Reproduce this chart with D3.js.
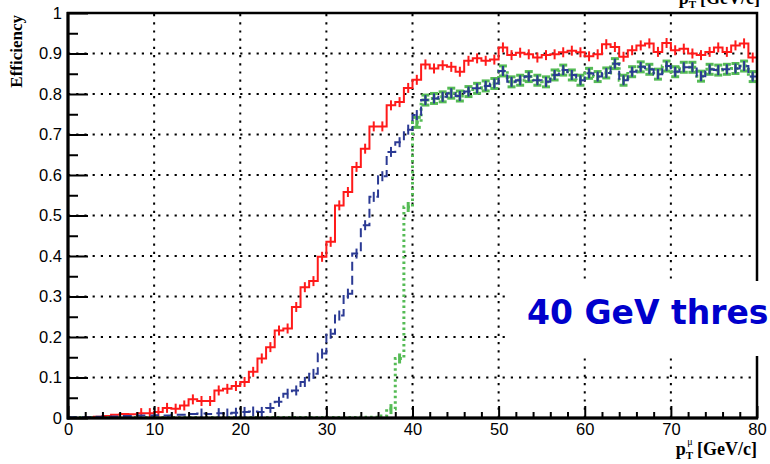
<!DOCTYPE html>
<html>
<head>
<meta charset="utf-8">
<script src="https://cdn.jsdelivr.net/npm/d3@7"></script>
<style>
  html, body { margin: 0; padding: 0; background: #fff; overflow: hidden; }
  svg { display: block; }
  .tick text { font-family: "Liberation Sans", Arial, sans-serif; font-size: 16.5px; fill: #000; }
</style>
</head>
<body>
<svg id="chart"></svg>
<script>
"use strict";

var width = 770;
var height = 464;

// efficiency per 1 GeV bin, bins 0..79
var binEdges = d3.range(0, 81);

var effRed = [
  0.000, 0.000, 0.002, 0.003, 0.005, 0.008, 0.010, 0.009, 0.012, 0.012,
  0.015, 0.025, 0.023, 0.031, 0.046, 0.042, 0.042, 0.068, 0.072, 0.079,
  0.089, 0.114, 0.147, 0.175, 0.216, 0.221, 0.274, 0.323, 0.338, 0.398,
  0.435, 0.525, 0.558, 0.620, 0.665, 0.720, 0.720, 0.772, 0.780, 0.815,
  0.835, 0.873, 0.863, 0.871, 0.867, 0.855, 0.882, 0.888, 0.882, 0.885,
  0.915, 0.896, 0.902, 0.898, 0.890, 0.896, 0.898, 0.903, 0.907, 0.903,
  0.893, 0.898, 0.923, 0.916, 0.892, 0.908, 0.920, 0.925, 0.904, 0.926,
  0.908, 0.912, 0.900, 0.896, 0.904, 0.915, 0.904, 0.920, 0.925, 0.890
];

var effBlue = [
  0.002, 0.002, 0.002, 0.003, 0.003, 0.004, 0.005, 0.005, 0.006, 0.006,
  0.007, 0.006, 0.008, 0.008, 0.010, 0.011, 0.010, 0.012, 0.011, 0.013,
  0.015, 0.016, 0.015, 0.025, 0.040, 0.060, 0.068, 0.089, 0.109, 0.159,
  0.208, 0.253, 0.307, 0.406, 0.476, 0.546, 0.597, 0.657, 0.681, 0.712,
  0.748, 0.785, 0.789, 0.793, 0.802, 0.795, 0.806, 0.814, 0.820, 0.826,
  0.857, 0.830, 0.834, 0.843, 0.834, 0.830, 0.847, 0.859, 0.847, 0.834,
  0.851, 0.843, 0.852, 0.875, 0.834, 0.855, 0.867, 0.861, 0.849, 0.869,
  0.855, 0.866, 0.866, 0.844, 0.861, 0.859, 0.861, 0.863, 0.869, 0.843
];

var effGreen = [
  0.001, 0.001, 0.001, 0.001, 0.001, 0.001, 0.001, 0.001, 0.001, 0.001,
  0.001, 0.001, 0.001, 0.001, 0.001, 0.001, 0.001, 0.001, 0.001, 0.001,
  0.001, 0.001, 0.001, 0.001, 0.001, 0.001, 0.001, 0.001, 0.001, 0.001,
  0.001, 0.001, 0.001, 0.001, 0.002, 0.002, 0.005, 0.022, 0.147, 0.521,
  0.730, 0.785, 0.789, 0.793, 0.802, 0.795, 0.806, 0.814, 0.820, 0.826,
  0.857, 0.830, 0.834, 0.843, 0.834, 0.830, 0.847, 0.859, 0.847, 0.834,
  0.851, 0.843, 0.852, 0.875, 0.834, 0.855, 0.867, 0.861, 0.849, 0.869,
  0.855, 0.866, 0.866, 0.844, 0.861, 0.859, 0.861, 0.863, 0.869, 0.843
];

var xTicks = [0, 10, 20, 30, 40, 50, 60, 70, 80];
var yTicks = [0, 0.1, 0.2, 0.3, 0.4, 0.5, 0.6, 0.7, 0.8, 0.9, 1];

var padL = 68, padR = 757, padT = 13, padB = 418;

var svg = d3.select("#chart").attr("width", width).attr("height", height);

var x = d3.scaleLinear().domain([0, 80]).range([padL, padR]);
var y = d3.scaleLinear().domain([0, 1]).range([padB, padT]);

svg.append("defs").append("clipPath").attr("id", "plot")
  .append("rect").attr("x", padL).attr("y", padT).attr("width", padR - padL).attr("height", padB - padT);

// dotted grid
var grid = svg.append("g").attr("stroke", "#000").attr("stroke-width", 2).attr("stroke-dasharray", "2.2,6");
grid.selectAll(".gx").data(xTicks.slice(1, -1)).enter().append("line")
  .attr("x1", function (d) { return x(d); }).attr("x2", function (d) { return x(d); })
  .attr("y1", padB).attr("y2", padT);
grid.selectAll(".gy").data(yTicks.slice(1, -1)).enter().append("line")
  .attr("y1", function (d) { return y(d); }).attr("y2", function (d) { return y(d); })
  .attr("x1", padL).attr("x2", padR);

// histograms
var plot = svg.append("g").attr("clip-path", "url(#plot)");

var step = d3.line().curve(d3.curveStepAfter)
  .x(function (d) { return x(d[0]); })
  .y(function (d) { return y(d[1]); });

function histPoints(vals) {
  var pts = vals.map(function (v, i) { return [binEdges[i], v]; });
  pts.push([binEdges[vals.length], vals[vals.length - 1]]);
  return pts;
}

var series = [
  { vals: effRed, color: "#ff1a1a", dash: null, width: 2, err: 5, cap: 0 },
  { vals: effGreen, color: "#55bb55", dash: "2.5,3", width: 3, err: 5, cap: 8 },
  { vals: effBlue, color: "#2b3a94", dash: "9,5", width: 2, err: 5, cap: 0 }
];

series.forEach(function (s) {
  plot.append("path").datum(histPoints(s.vals))
    .attr("fill", "none").attr("stroke", s.color).attr("stroke-width", s.width)
    .attr("stroke-dasharray", s.dash).attr("d", step);

  var bars = plot.append("g").attr("stroke", s.color).attr("stroke-width", s.cap ? 3 : 2);
  var shown = s.vals.map(function (v, i) { return [i + 0.5, v]; }).filter(function (d) { return d[1] > 0.01; });
  bars.selectAll("line.e").data(shown).enter().append("line")
    .attr("x1", function (d) { return x(d[0]); }).attr("x2", function (d) { return x(d[0]); })
    .attr("y1", function (d) { return y(d[1]) - s.err; }).attr("y2", function (d) { return y(d[1]) + s.err; });
  if (s.cap) {
    [-1, 1].forEach(function (k) {
      bars.selectAll("line.c" + k).data(shown.filter(function (d) { return d[1] > 0.7; })).enter().append("line")
        .attr("x1", function (d) { return x(d[0]) - s.cap / 2; }).attr("x2", function (d) { return x(d[0]) + s.cap / 2; })
        .attr("y1", function (d) { return y(d[1]) + k * s.err; }).attr("y2", function (d) { return y(d[1]) + k * s.err; });
    });
  }
});

// axes: ticks point inward, ROOT style
svg.append("g").attr("transform", "translate(" + padL + ",0)")
  .call(d3.axisLeft(y).tickValues(yTicks).tickSizeInner(-20).tickSizeOuter(0).tickPadding(6)
    .tickFormat(function (d) { return String(+d.toFixed(1)); }));
svg.append("g").attr("transform", "translate(" + padL + ",0)")
  .call(d3.axisLeft(y).tickValues(d3.range(0.05, 1, 0.1)).tickSizeInner(-10).tickSizeOuter(0).tickFormat(""));

svg.append("g").attr("transform", "translate(0," + padB + ")")
  .call(d3.axisBottom(x).tickValues(xTicks).tickSizeInner(-12).tickSizeOuter(0).tickPadding(5));
svg.append("g").attr("transform", "translate(0," + padB + ")")
  .call(d3.axisBottom(x).tickValues(d3.range(2, 80, 2).filter(function (d) { return d % 10; }))
    .tickSizeInner(-6).tickSizeOuter(0).tickFormat(""));

svg.selectAll(".domain").remove();
svg.selectAll(".tick line").attr("stroke", "#000").attr("stroke-width", 2);

// frame
svg.append("rect").attr("x", padL).attr("y", padT).attr("width", padR - padL).attr("height", padB - padT)
  .attr("fill", "none").attr("stroke", "#000").attr("stroke-width", 2.5);
svg.append("line").attr("x1", padL).attr("x2", padL).attr("y1", padT - 1).attr("y2", padB + 1.5)
  .attr("stroke", "#000").attr("stroke-width", 3);
svg.append("line").attr("x1", padL - 1).attr("x2", padR + 1).attr("y1", padB).attr("y2", padB)
  .attr("stroke", "#000").attr("stroke-width", 3);

// white box + annotation (runs off the right edge like the original)
svg.append("rect").attr("x", 508).attr("y", 281).attr("width", 270).attr("height", 75).attr("fill", "#fff");
svg.append("text").attr("x", 527).attr("y", 324)
  .attr("font-family", "DejaVu Sans, sans-serif").attr("font-weight", "bold").attr("font-size", 33)
  .attr("fill", "#0000cc").text("40 GeV threshold");

// axis titles
svg.append("text").attr("transform", "translate(22,15) rotate(-90)").attr("text-anchor", "end")
  .attr("font-family", "Liberation Serif, Times New Roman, serif").attr("font-weight", "bold").attr("font-size", 17)
  .text("Efficiency");

function ptTitle(xr, yb) {
  var t = svg.append("text").attr("x", xr).attr("y", yb).attr("text-anchor", "end")
    .attr("font-family", "Liberation Serif, Times New Roman, serif").attr("font-weight", "bold").attr("font-size", 18);
  t.append("tspan").text("p");
  t.append("tspan").attr("font-size", 11).attr("dy", 4).text("T");
  t.append("tspan").attr("font-size", 10).attr("dx", -6).attr("dy", -14).attr("font-weight", "normal").text("μ");
  t.append("tspan").attr("dy", 10).text(" [GeV/c]");
}
ptTitle(757, 455);
ptTitle(760, 4);
</script>
</body>
</html>
